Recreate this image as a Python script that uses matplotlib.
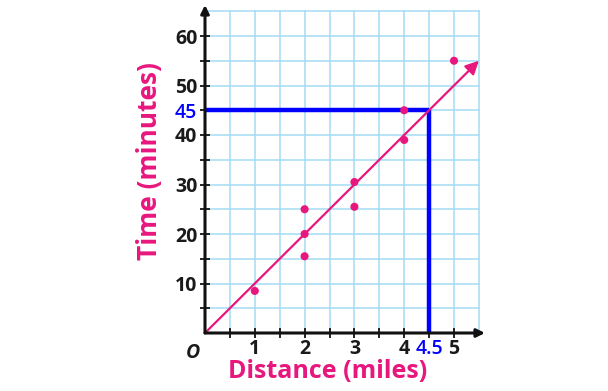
import matplotlib.pyplot as plt
import numpy as np

# data
distance = [1, 2, 2, 2, 3, 3, 4, 4, 5]
minutes = [8.5, 25, 20, 15.5, 30.5, 25.5, 45, 39, 55]
fit_x = [0, 5.5]
fit_y = [0, 55]
guess_x = 4.5
guess_y = 45

x_ticks = [1, 2, 3, 4, 4.5, 5]
x_labels = ['1', '2', '3', '4', '4.5', '5']
y_ticks = [10, 20, 30, 40, 45, 50, 60]
y_labels = ['10', '20', '30', '40', '45', '50', '60']

pink = '#e8177d'
blue = '#0000ff'
grid_col = '#a3dcf2'

plt.rcParams['font.family'] = ['Open Sans', 'DejaVu Sans']

fig = plt.figure(figsize=(6.08, 3.91), dpi=100)
W, H = 608, 391
ax = fig.add_axes([205 / W, (H - 333) / H, (485 - 205) / W, (333 - 5) / H])
ax.set_xlim(0, 280 / 49.8)
ax.set_ylim(0, 328 / 4.95)

# grid paper
for gx in np.arange(0.5, 5.51, 0.5):
    ax.plot([gx, gx], [0, 65], color=grid_col, lw=1.1, zorder=0)
for gy in np.arange(5, 65.1, 5):
    ax.plot([0, 5.5], [gy, gy], color=grid_col, lw=1.1, zorder=0)

for s in ['top', 'right', 'left', 'bottom']:
    ax.spines[s].set_visible(False)

# axes with arrows
ax.annotate('', xy=(ax.get_xlim()[1], 0), xytext=(0, 0),
            arrowprops=dict(arrowstyle='-|>', color='#111111', lw=2.2,
                            mutation_scale=12, shrinkA=0, shrinkB=0),
            annotation_clip=False, zorder=5)
ax.annotate('', xy=(0, ax.get_ylim()[1]), xytext=(0, 0),
            arrowprops=dict(arrowstyle='-|>', color='#111111', lw=2.2,
                            mutation_scale=12, shrinkA=0, shrinkB=0),
            annotation_clip=False, zorder=5)

# estimate lines
ax.plot([0, guess_x], [guess_y, guess_y], color=blue, lw=3.2, zorder=3,
        solid_capstyle='butt')
ax.plot([guess_x, guess_x], [0, guess_y], color=blue, lw=3.2, zorder=3,
        solid_capstyle='butt')

# trend line with arrow
ax.annotate('', xy=(fit_x[1], fit_y[1]), xytext=(fit_x[0], fit_y[0]),
            arrowprops=dict(arrowstyle='-|>', color=pink, lw=1.6,
                            mutation_scale=20, shrinkA=0, shrinkB=0),
            zorder=4)

ax.scatter(distance, minutes, s=34, color=pink, zorder=6, edgecolors='none')

# ticks
ax.set_xticks(x_ticks)
ax.set_xticklabels(x_labels)
ax.set_xticks(np.arange(0.5, 5.1, 0.5), minor=True)
ax.set_yticks(y_ticks)
ax.set_yticklabels(y_labels)
ax.set_yticks(np.arange(5, 56, 5), minor=True)
ax.tick_params(which='both', direction='inout', length=7, width=1.4,
               color='#222222', labelsize=14, pad=2)
ax.tick_params(axis='x', pad=0.5)
for lab in ax.get_xticklabels() + ax.get_yticklabels():
    lab.set_fontweight('bold')
    lab.set_color('#1a1a1a')
ax.get_xticklabels()[4].set_color(blue)
ax.get_xticklabels()[4].set_fontweight('semibold')
ax.get_yticklabels()[4].set_color(blue)
ax.get_yticklabels()[4].set_fontweight('semibold')

ax.text(-0.24, -2.0, 'O', fontsize=14, fontweight='bold', style='italic',
        ha='center', va='top', color='#1a1a1a')

fig.text(328 / W, 1 - 372 / H, 'Distance (miles)', color=pink, fontsize=18,
         fontweight='bold', ha='center', va='center')
fig.text(149 / W, 1 - 161 / H, 'Time (minutes)', color=pink, fontsize=19,
         fontweight='bold', ha='center', va='center', rotation=90)

fig.savefig('out.png', dpi=100)
